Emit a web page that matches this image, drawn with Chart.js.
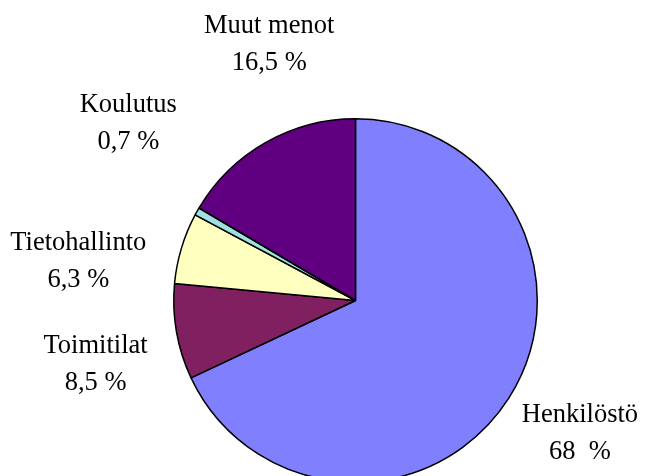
<!DOCTYPE html>
<html>
<head>
<meta charset="utf-8">
<script src="https://cdn.jsdelivr.net/npm/chart.js@4.4.1/dist/chart.umd.min.js"></script>
<style>
  html, body { margin: 0; padding: 0; background: #ffffff; overflow: hidden; }
  #wrap { width: 647px; height: 476px; overflow: hidden; position: relative; }
  canvas { display: block; }
  .probe { font-family: "Liberation Serif"; position: absolute; left: -999px; top: -999px; }
</style>
</head>
<body>
<div id="wrap"><canvas id="c" width="647" height="500"></canvas></div>
<span class="probe">Muut menot</span>
<script>
// ---- Data ----
const categories = ["Henkilöstö", "Toimitilat", "Tietohallinto", "Koulutus", "Muut menot"];
const shares = [68, 8.5, 6.3, 0.7, 16.5];
const shareLabels = ["68  %", "8,5 %", "6,3 %", "0,7 %", "16,5 %"];

// ---- Styles ----
const sliceColors = ["#8080FF", "#802060", "#FFFFC0", "#A0E0E0", "#600080"];
// label block centre relative to pie centre, in units of the pie radius
const labelOffsets = [
  [1.235, 0.73],
  [-1.43, 0.35],
  [-1.525, -0.215],
  [-1.25, -0.975],
  [-0.475, -1.41]
];
const LABEL_FONT = '26.5px "Liberation Serif", "Times New Roman", "DejaVu Serif", serif';

const labelPlugin = {
  id: 'outsideLabels',
  afterDatasetsDraw(chart) {
    const ctx = chart.ctx;
    const meta = chart.getDatasetMeta(0);
    ctx.save();
    ctx.fillStyle = '#000000';
    ctx.font = LABEL_FONT;
    ctx.textAlign = 'center';
    ctx.textBaseline = 'middle';
    meta.data.forEach((arc, i) => {
      const r = arc.outerRadius;
      const cx = arc.x + labelOffsets[i][0] * r;
      const cy = arc.y + labelOffsets[i][1] * r;
      ctx.fillText(categories[i], cx, cy - 18.5);
      ctx.fillText(shareLabels[i], cx, cy + 18.5);
    });
    ctx.restore();
  }
};

function build() {
  new Chart(document.getElementById('c'), {
    type: 'pie',
    data: {
      labels: categories,
      datasets: [{
        data: shares,
        backgroundColor: sliceColors,
        borderColor: '#000000',
        borderWidth: 1.5
      }]
    },
    options: {
      responsive: false,
      animation: false,
      layout: { padding: { left: 173, top: 118, right: 109, bottom: 17 } },
      plugins: {
        legend: { display: false },
        tooltip: { enabled: false }
      }
    },
    plugins: [labelPlugin]
  });
}

if (document.fonts && document.fonts.load) {
  document.fonts.load(LABEL_FONT, 'Muut menot').then(build, build);
} else {
  build();
}
</script>
</body>
</html>
